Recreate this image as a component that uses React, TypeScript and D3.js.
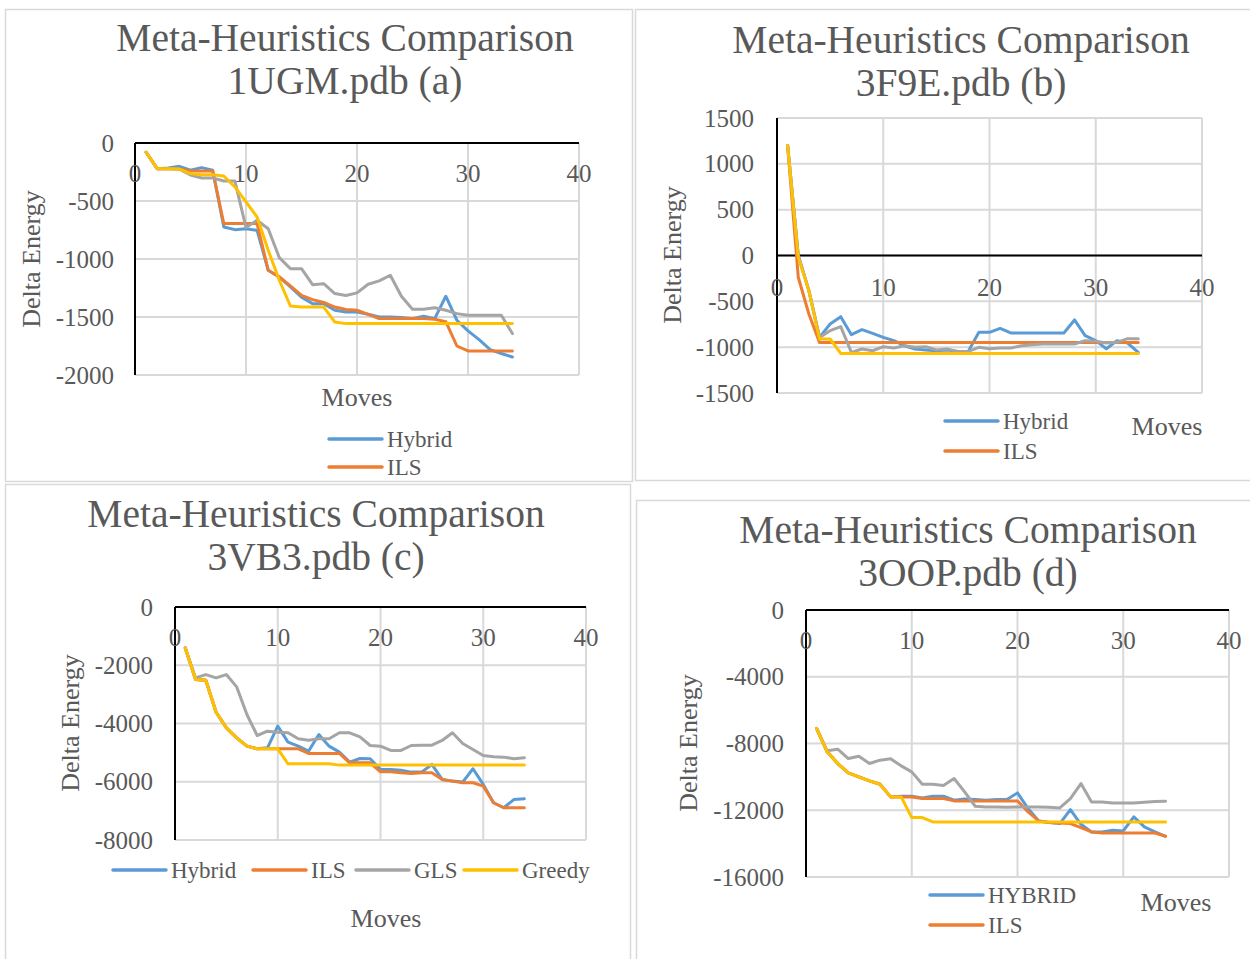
import React from "react";
import * as d3 from "d3";

// ---------- Data ----------
const moves = [1,2,3,4,5,6,7,8,9,10,11,12,13,14,15,16,17,18,19,20,21,22,23,24,25,26,27,28,29,30,31,32,33,34];

const hybridA = [-80,-221,-215,-201,-235,-212,-235,-724,-747,-739,-753,-1097,-1155,-1240,-1330,-1385,-1385,-1442,-1457,-1457,-1477,-1500,-1500,-1505,-1514,-1494,-1514,-1321,-1528,-1620,-1695,-1781,-1815,-1845];
const ilsA = [-80,-221,-221,-225,-241,-241,-241,-695,-695,-695,-695,-1097,-1155,-1232,-1313,-1350,-1375,-1414,-1436,-1442,-1477,-1514,-1514,-1514,-1514,-1514,-1520,-1540,-1750,-1793,-1793,-1793,-1793,-1793];
const glsA = [-80,-221,-221,-225,-276,-302,-302,-328,-328,-729,-666,-739,-988,-1083,-1083,-1221,-1213,-1298,-1315,-1292,-1218,-1189,-1140,-1321,-1434,-1434,-1420,-1442,-1471,-1485,-1485,-1485,-1485,-1643];
const greedyA = [-80,-221,-221,-225,-264,-273,-273,-284,-379,-508,-638,-925,-1183,-1405,-1414,-1414,-1414,-1543,-1557,-1557,-1557,-1557,-1557,-1557,-1557,-1557,-1557,-1557,-1557,-1557,-1557,-1557,-1557,-1557];

const hybridB = [1200,0,-383,-893,-747,-667,-864,-809,-849,-893,-929,-984,-1020,-1031,-1039,-1031,-1046,-1046,-838,-838,-794,-845,-845,-845,-845,-845,-845,-703,-875,-929,-1017,-929,-955,-1057];
const ilsB = [1200,-237,-638,-950,-950,-950,-950,-950,-950,-950,-950,-950,-950,-950,-950,-950,-950,-950,-950,-950,-950,-950,-950,-950,-950,-950,-950,-950,-950,-950,-950,-950,-950,-950];
const glsB = [1200,0,-383,-893,-820,-776,-1057,-1020,-1039,-995,-1009,-984,-1002,-995,-1031,-1020,-1046,-1046,-1002,-1017,-1009,-1009,-984,-973,-966,-966,-966,-966,-929,-936,-955,-947,-907,-907];
const greedyB = [1200,-20,-383,-911,-911,-1068,-1068,-1068,-1068,-1068,-1068,-1068,-1068,-1068,-1068,-1068,-1068,-1068,-1068,-1068,-1068,-1068,-1068,-1068,-1068,-1068,-1068,-1068,-1068,-1068,-1068,-1068,-1068,-1068];

const hybridC = [-1406,-2492,-2515,-3612,-4149,-4492,-4778,-4869,-4835,-4092,-4641,-4778,-4949,-4378,-4778,-4984,-5326,-5201,-5212,-5578,-5578,-5601,-5669,-5669,-5406,-5920,-5978,-6012,-5555,-6092,-6721,-6892,-6606,-6584];
const ilsC = [-1406,-2492,-2515,-3612,-4149,-4492,-4778,-4869,-4869,-4869,-4869,-4869,-5029,-5029,-5029,-5029,-5349,-5349,-5349,-5658,-5658,-5692,-5715,-5692,-5692,-5920,-5978,-6035,-6035,-6149,-6721,-6892,-6892,-6892];
const glsC = [-1406,-2435,-2320,-2435,-2320,-2743,-3692,-4412,-4263,-4298,-4320,-4526,-4572,-4526,-4526,-4320,-4320,-4458,-4755,-4778,-4926,-4926,-4755,-4743,-4743,-4583,-4320,-4686,-4892,-5098,-5144,-5155,-5212,-5178];
const greedyC = [-1406,-2492,-2515,-3612,-4149,-4492,-4778,-4869,-4869,-4869,-5384,-5384,-5384,-5384,-5384,-5429,-5429,-5429,-5429,-5429,-5429,-5429,-5429,-5429,-5429,-5429,-5429,-5429,-5429,-5429,-5429,-5429,-5429,-5429];

const hybridD = [-7100,-8500,-9200,-9760,-10000,-10240,-10440,-11200,-11160,-11160,-11260,-11160,-11160,-11400,-11320,-11360,-11400,-11360,-11360,-10960,-11900,-12640,-12740,-12800,-11960,-12840,-13300,-13300,-13200,-13240,-12400,-13000,-13300,-13560];
const ilsD = [-7100,-8500,-9200,-9760,-10000,-10240,-10440,-11200,-11200,-11200,-11300,-11300,-11300,-11440,-11440,-11440,-11440,-11440,-11440,-11440,-12100,-12640,-12740,-12760,-12800,-13040,-13300,-13360,-13360,-13360,-13360,-13360,-13360,-13560];
const glsD = [-7100,-8440,-8340,-8900,-8760,-9200,-9000,-8920,-9340,-9700,-10440,-10440,-10520,-10100,-10900,-11760,-11800,-11800,-11820,-11800,-11800,-11800,-11820,-11860,-11300,-10400,-11500,-11500,-11560,-11560,-11560,-11520,-11480,-11460];
const greedyD = [-7100,-8500,-9200,-9760,-10000,-10240,-10440,-11200,-11200,-12440,-12440,-12700,-12700,-12700,-12700,-12700,-12700,-12700,-12700,-12700,-12700,-12700,-12700,-12700,-12700,-12700,-12700,-12700,-12700,-12700,-12700,-12700,-12700,-12700];

const xTicks = [0, 10, 20, 30, 40];
const yTicksA = [0, -500, -1000, -1500, -2000];
const yTicksB = [1500, 1000, 500, 0, -500, -1000, -1500];
const yTicksC = [0, -2000, -4000, -6000, -8000];
const yTicksD = [0, -4000, -8000, -12000, -16000];

const seriesColors = ["#5B9BD5", "#ED7D31", "#A5A5A5", "#FFC000"];

// ---------- Styles ----------
const FONT = "'Liberation Serif', 'DejaVu Serif', serif";
const TXT = "#595959";
const GRID = "#d9d9d9";

type LegendItem = { label: string; color: string; x: number; y: number };

type PanelCfg = {
  box: [number, number, number, number];
  title: [string, string];
  titleX: number;
  titleY: [number, number];
  plot: { x0: number; x1: number; yTop: number; yBot: number };
  yDomain: [number, number];
  yTicks: number[];
  yLabelRight: number;
  xLabelY: number;
  yTitleX: number;
  yTitleY: number;
  movesX: number;
  movesY: number;
  series: number[][];
  legend: LegendItem[];
};

const panels: PanelCfg[] = [
  {
    box: [5.5, 9.5, 627, 472],
    title: ["Meta-Heuristics Comparison", "1UGM.pdb (a)"],
    titleX: 345, titleY: [38, 81],
    plot: { x0: 135, x1: 579, yTop: 143, yBot: 375 },
    yDomain: [-2000, 0], yTicks: yTicksA, yLabelRight: 114,
    xLabelY: 173, yTitleX: 31, yTitleY: 259, movesX: 357, movesY: 397,
    series: [hybridA, ilsA, glsA, greedyA],
    legend: [
      { label: "Hybrid", color: seriesColors[0], x: 329, y: 439 },
      { label: "ILS", color: seriesColors[1], x: 329, y: 467 },
    ],
  },
  {
    box: [635.5, 9.5, 620, 471],
    title: ["Meta-Heuristics Comparison", "3F9E.pdb (b)"],
    titleX: 961, titleY: [40, 83],
    plot: { x0: 777, x1: 1202, yTop: 118, yBot: 393 },
    yDomain: [-1500, 1500], yTicks: yTicksB, yLabelRight: 754,
    xLabelY: 287, yTitleX: 672, yTitleY: 255, movesX: 1167, movesY: 426,
    series: [hybridB, ilsB, glsB, greedyB],
    legend: [
      { label: "Hybrid", color: seriesColors[0], x: 945, y: 421 },
      { label: "ILS", color: seriesColors[1], x: 945, y: 451 },
    ],
  },
  {
    box: [5.5, 484.5, 625, 480],
    title: ["Meta-Heuristics Comparison", "3VB3.pdb (c)"],
    titleX: 316, titleY: [514, 557],
    plot: { x0: 175, x1: 586, yTop: 607, yBot: 840 },
    yDomain: [-8000, 0], yTicks: yTicksC, yLabelRight: 153,
    xLabelY: 637, yTitleX: 70, yTitleY: 723, movesX: 386, movesY: 918,
    series: [hybridC, ilsC, glsC, greedyC],
    legend: [
      { label: "Hybrid", color: seriesColors[0], x: 113, y: 870 },
      { label: "ILS", color: seriesColors[1], x: 253, y: 870 },
      { label: "GLS", color: seriesColors[2], x: 356, y: 870 },
      { label: "Greedy", color: seriesColors[3], x: 464, y: 870 },
    ],
  },
  {
    box: [636.5, 500.5, 620, 470],
    title: ["Meta-Heuristics Comparison", "3OOP.pdb (d)"],
    titleX: 968, titleY: [530, 573],
    plot: { x0: 806, x1: 1229, yTop: 610, yBot: 877 },
    yDomain: [-16000, 0], yTicks: yTicksD, yLabelRight: 784,
    xLabelY: 640, yTitleX: 688, yTitleY: 743, movesX: 1176, movesY: 902,
    series: [hybridD, ilsD, glsD, greedyD],
    legend: [
      { label: "HYBRID", color: seriesColors[0], x: 930, y: 895 },
      { label: "ILS", color: seriesColors[1], x: 930, y: 925 },
    ],
  },
];

function Panel({ cfg }: { cfg: PanelCfg }) {
  const { plot } = cfg;
  const x = d3.scaleLinear().domain([0, 40]).range([plot.x0, plot.x1]);
  const y = d3.scaleLinear().domain(cfg.yDomain).range([plot.yBot, plot.yTop]);
  const line = d3
    .line<number>()
    .x((_, i) => x(moves[i]))
    .y((d) => y(d));
  const zeroY = y(0);
  return (
    <g>
      <rect x={cfg.box[0]} y={cfg.box[1]} width={cfg.box[2]} height={cfg.box[3]} fill="#fff" stroke={GRID} strokeWidth={1.5} />
      {cfg.title.map((t, i) => (
        <text key={i} x={cfg.titleX} y={cfg.titleY[i]} textAnchor="middle" dominantBaseline="central" fontFamily={FONT} fontSize={39.5} fill={TXT}>
          {t}
        </text>
      ))}
      {cfg.yTicks.map((t) => (
        <line key={"h" + t} x1={plot.x0} x2={plot.x1} y1={y(t)} y2={y(t)} stroke={GRID} strokeWidth={2} />
      ))}
      {xTicks.filter((t) => t > 0).map((t) => (
        <line key={"v" + t} x1={x(t)} x2={x(t)} y1={plot.yTop} y2={plot.yBot} stroke={GRID} strokeWidth={2} />
      ))}
      <line x1={plot.x0} x2={plot.x1} y1={zeroY} y2={zeroY} stroke="#000" strokeWidth={2} />
      <line x1={plot.x0} x2={plot.x0} y1={plot.yTop} y2={plot.yBot} stroke="#000" strokeWidth={2} />
      {cfg.yTicks.map((t) => (
        <text key={"yl" + t} x={cfg.yLabelRight} y={y(t)} textAnchor="end" dominantBaseline="central" fontFamily={FONT} fontSize={25} fill={TXT}>
          {t}
        </text>
      ))}
      {xTicks.map((t) => (
        <text key={"xl" + t} x={x(t)} y={cfg.xLabelY} textAnchor="middle" dominantBaseline="central" fontFamily={FONT} fontSize={25} fill={TXT}>
          {t}
        </text>
      ))}
      {cfg.series.map((s, i) => (
        <path key={"s" + i} d={line(s) || ""} fill="none" stroke={seriesColors[i]} strokeWidth={3} strokeLinejoin="round" strokeLinecap="round" />
      ))}
      <text x={cfg.yTitleX} y={cfg.yTitleY} textAnchor="middle" dominantBaseline="central" fontFamily={FONT} fontSize={26} fill={TXT} transform={`rotate(-90 ${cfg.yTitleX} ${cfg.yTitleY})`}>
        Delta Energy
      </text>
      <text x={cfg.movesX} y={cfg.movesY} textAnchor="middle" dominantBaseline="central" fontFamily={FONT} fontSize={26} fill={TXT}>
        Moves
      </text>
      {cfg.legend.map((l) => (
        <g key={l.label}>
          <line x1={l.x} x2={l.x + 53} y1={l.y} y2={l.y} stroke={l.color} strokeWidth={3.5} strokeLinecap="round" />
          <text x={l.x + 58} y={l.y} dominantBaseline="central" fontFamily={FONT} fontSize={23} fill={TXT}>
            {l.label}
          </text>
        </g>
      ))}
    </g>
  );
}

export default function App() {
  return (
    <svg width={1250} height={959} style={{ position: "absolute", left: 0, top: 0, background: "#fff" }}>
      <rect x={0} y={0} width={1250} height={959} fill="#fff" />
      {panels.map((p, i) => (
        <Panel key={i} cfg={p} />
      ))}
    </svg>
  );
}
